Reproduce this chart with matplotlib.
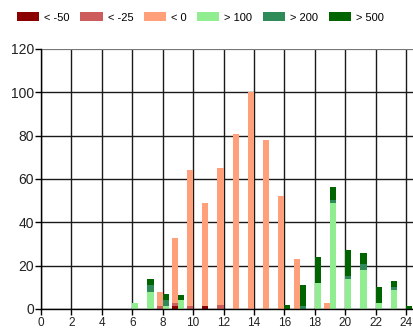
import matplotlib
matplotlib.use("Agg")
import matplotlib.pyplot as plt
from matplotlib.patches import Patch
import numpy as np

plt.rcParams['font.family'] = ['Liberation Sans', 'DejaVu Sans']

hours = list(range(0, 25))

# Hourly counts, negative-side buckets (stacked, left bar of each hour)
neg_50 = [0, 0, 0, 0, 0, 0, 0, 0, 0, 1.5, 0, 1.5, 0, 0, 0, 0, 0, 0, 0, 0, 0, 0, 0, 0, 0]
neg_25 = [0, 0, 0, 0, 0, 0, 0, 0, 1.5, 1.5, 1.5, 0, 2, 0, 0, 0, 0, 0, 0, 0, 0, 0, 0, 0, 0]
neg_0 = [0, 0, 0, 0, 0, 0, 0, 0, 6.5, 30, 62.5, 47.5, 63, 81, 100, 78, 52, 23, 0, 3, 0, 0, 0, 0, 0]

# Hourly counts, positive-side buckets (stacked, right bar of each hour)
pos_100 = [0, 0, 0, 0, 0, 0, 3, 8, 1.5, 4, 0, 0, 0, 0, 0, 0, 0, 0, 12, 49, 14, 18, 3, 9, 0]
pos_200 = [0, 0, 0, 0, 0, 0, 0, 3, 2.5, 0, 0, 0, 0, 0, 0, 0, 0, 1.5, 0, 1.3, 1.2, 3, 0, 1, 0]
pos_500 = [0, 0, 0, 0, 0, 0, 0, 3, 3, 2.3, 0, 0, 0, 0, 0, 0, 2, 9.5, 12, 6, 12, 5, 7, 3, 1.5]

labels = ['< -50', '< -25', '< 0', '> 100', '> 200', '> 500']
colors = ['#8B0000', '#CD5C5C', '#FFA07A', '#90EE90', '#2E8B57', '#006400']

fig = plt.figure(figsize=(4.14, 3.34), dpi=100)
ax = fig.add_axes([41 / 414, 25 / 334, 1 - 41 / 414, 260 / 334])

x = np.array(hours, dtype=float)
w = 0.4

bottom = np.zeros(len(hours))
for vals, c in zip([neg_50, neg_25, neg_0], colors[:3]):
    v = np.array(vals, dtype=float)
    ax.bar(x - w, v, width=w, bottom=bottom, align='edge', color=c, linewidth=0)
    bottom += v

bottom = np.zeros(len(hours))
for vals, c in zip([pos_100, pos_200, pos_500], colors[3:]):
    v = np.array(vals, dtype=float)
    ax.bar(x, v, width=w, bottom=bottom, align='edge', color=c, linewidth=0)
    bottom += v

ax.set_xlim(0, 24.52)
ax.set_ylim(0, 120)
ax.set_xticks(range(0, 25, 2))
ax.set_yticks(range(0, 121, 20))
ax.set_axisbelow(True)
ax.grid(True, color='#1a1a1a', linewidth=1.0)
ax.get_ygridlines()[-1].set_color('#777777')
ax.get_ygridlines()[-1].set_linewidth(1.6)
for s in ['top', 'right']:
    ax.spines[s].set_visible(False)
for s in ['left', 'bottom']:
    ax.spines[s].set_color('black')
    ax.spines[s].set_linewidth(1.0)
ax.tick_params(axis='y', length=4, width=1, labelsize=10, colors='black', labelcolor='#222222', pad=1)
ax.tick_params(axis='x', length=4, width=1, labelsize=8.5, colors='black', labelcolor='#222222', pad=2)

handles = [Patch(facecolor=c, edgecolor='none') for c in colors]
fig.legend(handles, labels, loc='upper left', bbox_to_anchor=(0.02, 0.99), ncol=6,
           frameon=False, fontsize=8, handlelength=2.0, handleheight=0.9,
           handletextpad=0.45, columnspacing=0.95, borderaxespad=0.4)

fig.savefig('out.png', dpi=100)
